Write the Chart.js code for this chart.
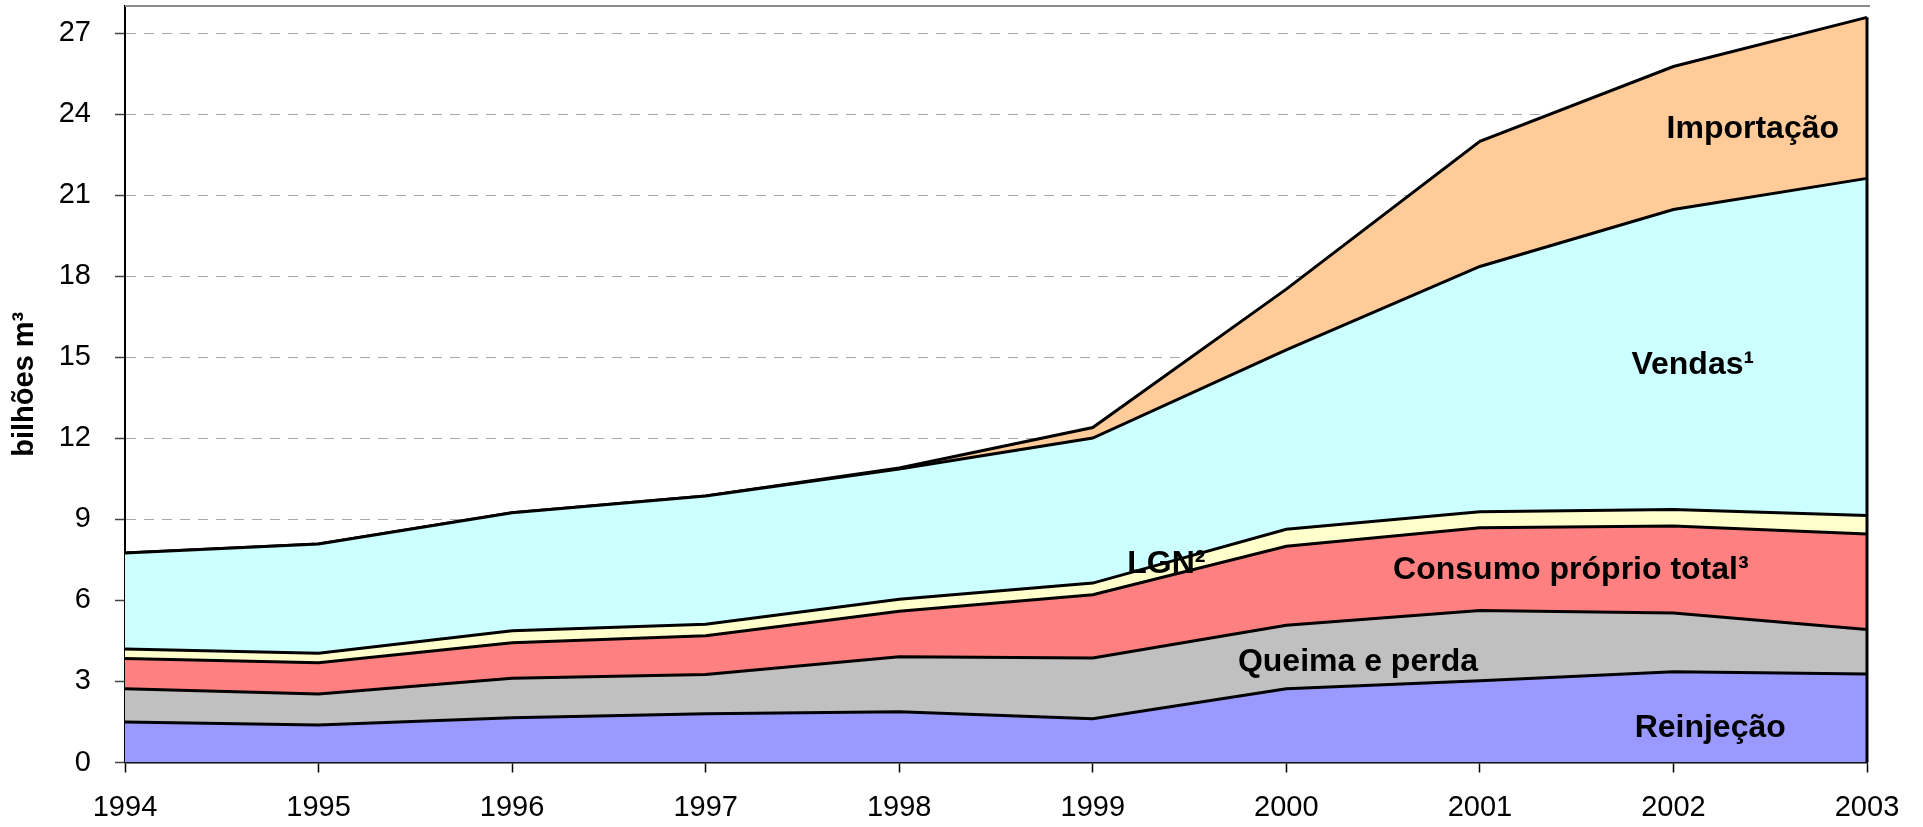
<!DOCTYPE html>
<html>
<head>
<meta charset="utf-8">
<script src="https://cdn.jsdelivr.net/npm/chart.js@4.4.1/dist/chart.umd.min.js"></script>
<style>
    html, body { margin: 0; padding: 0; background: #fff; }
    #wrap { width: 1923px; height: 827px; position: relative; }
</style>
</head>
<body>
<div id="wrap"><canvas id="gasChart"></canvas></div>
<script>
// values in bilhões m³
const years = ["1994", "1995", "1996", "1997", "1998", "1999", "2000", "2001", "2002", "2003"];
const reinjecao = [1.50, 1.39, 1.66, 1.80, 1.88, 1.62, 2.73, 3.03, 3.36, 3.28];
const queimaPerda = [1.23, 1.15, 1.46, 1.46, 2.03, 2.25, 2.35, 2.60, 2.17, 1.64];
const consumoProprio = [1.12, 1.15, 1.31, 1.43, 1.69, 2.34, 2.92, 3.06, 3.22, 3.54];
const lgn = [0.35, 0.35, 0.45, 0.43, 0.44, 0.43, 0.63, 0.59, 0.61, 0.68];
const vendas = [3.55, 4.05, 4.36, 4.74, 4.82, 5.37, 6.64, 9.08, 11.11, 12.48];
const importacao = [0, 0, 0, 0, 0.04, 0.39, 2.25, 4.63, 5.29, 5.96];
const yTicks = [0, 3, 6, 9, 12, 15, 18, 21, 24, 27];

const FONT = "'Liberation Sans', Arial, sans-serif";

// in-chart series labels, placed in data units (x = year index, y = value)
const seriesLabels = [
    { text: "Importação", x: 8.41, y: 23.44 },
    { text: "Vendas¹", x: 8.10, y: 14.71 },
    { text: "LGN²", x: 5.38, y: 7.34 },
    { text: "Consumo próprio total³", x: 7.47, y: 7.12 },
    { text: "Queima e perda", x: 6.37, y: 3.72 },
    { text: "Reinjeção", x: 8.19, y: 1.28 },
];

function layer(label, data, color, first) {
    return {
        label: label,
        data: data,
        backgroundColor: color,
        borderColor: "#000",
        borderWidth: 3,
        fill: first ? "origin" : "-1",
        pointRadius: 0,
        tension: 0,
    };
}

const framePlugin = {
    id: "frame",
    afterDatasetsDraw(chart) {
        const { ctx, chartArea, scales } = chart;
        const last = years.length - 1;
        const total = reinjecao[last] + queimaPerda[last] + consumoProprio[last] + lgn[last] + vendas[last] + importacao[last];
        ctx.save();
        // top frame line
        ctx.strokeStyle = "#8c8c8c";
        ctx.lineWidth = 2;
        ctx.beginPath();
        ctx.moveTo(chartArea.left, chartArea.top);
        ctx.lineTo(chartArea.right + 3, chartArea.top);
        ctx.stroke();
        // right edge of the stacked area
        const xr = scales.x.getPixelForValue(last);
        ctx.strokeStyle = "#000";
        ctx.lineWidth = 3;
        ctx.beginPath();
        ctx.moveTo(xr, scales.y.getPixelForValue(0));
        ctx.lineTo(xr, scales.y.getPixelForValue(total));
        ctx.stroke();
        // series labels
        ctx.fillStyle = "#000";
        ctx.font = "bold 32px " + FONT;
        ctx.textAlign = "center";
        ctx.textBaseline = "middle";
        seriesLabels.forEach(l => {
            ctx.fillText(l.text, scales.x.getPixelForValue(l.x), scales.y.getPixelForValue(l.y));
        });
        ctx.restore();
    },
};

new Chart(document.getElementById("gasChart").getContext("2d"), {
    type: "line",
    data: {
        labels: years,
        datasets: [
            layer("Reinjeção", reinjecao, "#9999FF", true),
            layer("Queima e perda", queimaPerda, "#C0C0C0"),
            layer("Consumo próprio total³", consumoProprio, "#FF8080"),
            layer("LGN²", lgn, "#FFFFCC"),
            layer("Vendas¹", vendas, "#CCFFFF"),
            layer("Importação", importacao, "#FFCC99"),
        ],
    },
    options: {
        responsive: true,
        maintainAspectRatio: false,
        animation: false,
        layout: { padding: { top: 6, right: 56, left: 0, bottom: 0 } },
        plugins: {
            legend: { display: false },
            tooltip: { enabled: false },
        },
        scales: {
            x: {
                offset: false,
                grid: {
                    drawOnChartArea: false,
                    drawTicks: true,
                    tickLength: 10,
                    tickColor: "#000",
                    tickWidth: 1.5,
                },
                border: { color: "#000", width: 2.5 },
                ticks: {
                    color: "#000",
                    font: { family: FONT, size: 29 },
                    padding: 18,
                    maxRotation: 0,
                    autoSkip: false,
                },
                afterFit(scale) { scale.height = 64.5; },
            },
            y: {
                stacked: true,
                min: 0,
                max: 28,
                afterBuildTicks(scale) { scale.ticks = yTicks.map(v => ({ value: v })); },
                grid: {
                    color: "#a8a8a8",
                    lineWidth: 1,
                    tickLength: 10,
                    tickColor: "#444",
                    tickWidth: 1.5,
                },
                border: { color: "#000", width: 2, dash: [10, 8] },
                ticks: {
                    color: "#000",
                    font: { family: FONT, size: 29 },
                    padding: 24,
                },
                title: {
                    display: true,
                    text: "bilhões m³",
                    color: "#000",
                    font: { family: FONT, size: 29, weight: "bold" },
                    padding: { top: 8, bottom: 0 },
                },
                afterFit(scale) {
                    scale.width = 125;
                    scale.paddingTop = 0;
                    scale.paddingBottom = 0;
                },
            },
        },
    },
    plugins: [framePlugin],
});
</script>
</body>
</html>
